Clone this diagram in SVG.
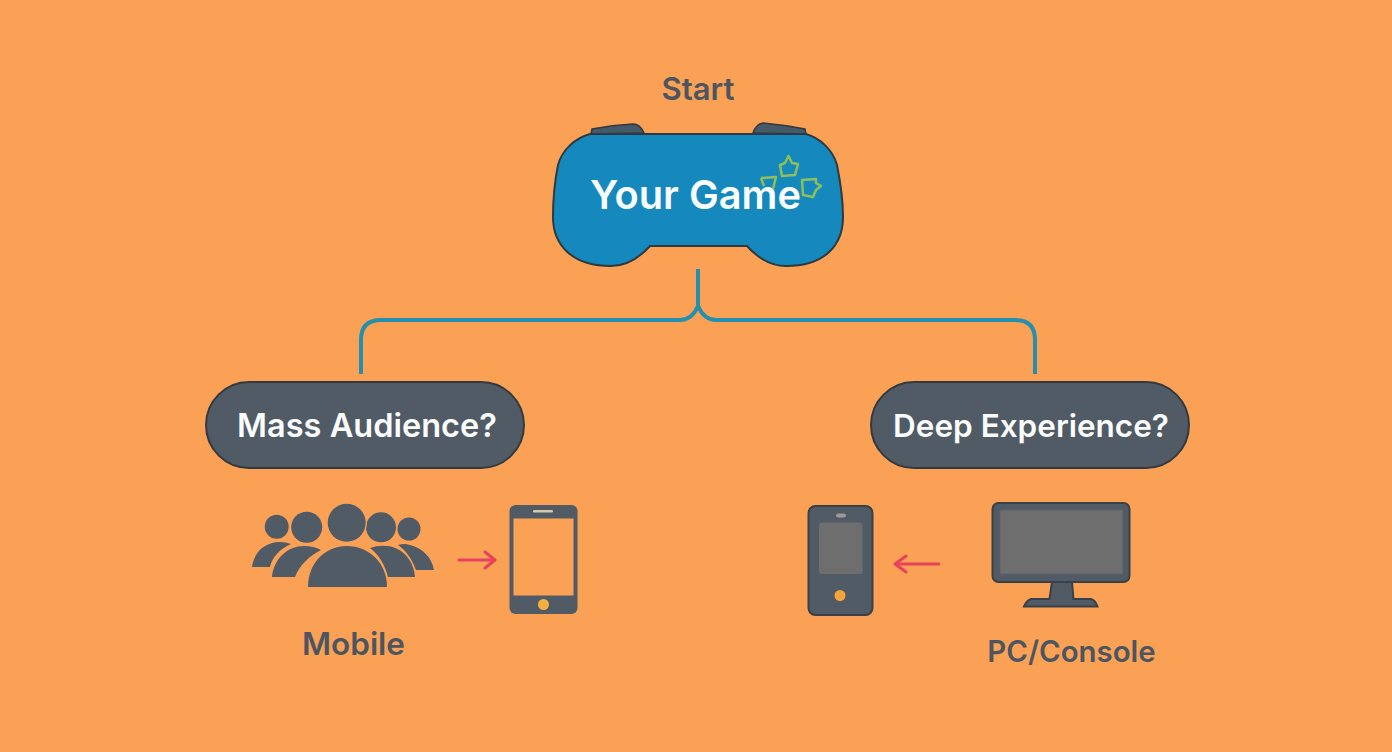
<svg xmlns="http://www.w3.org/2000/svg" width="1392" height="752" viewBox="0 0 1392 752">
<defs>
<style>
text{font-family:"Inter","Noto Sans","Liberation Sans",sans-serif;text-anchor:middle;font-weight:600}
.lbl{fill:#4d5660}
.wht{fill:#fafcfc}
.dk{fill:#505b66;stroke:#3a4046;stroke-width:2}
.ppl{fill:#505b66;stroke:#fba155;stroke-width:2.500;paint-order:stroke}
.con{fill:none;stroke:#2590ae;stroke-width:4}
.star{fill:none;stroke:#8fbf5a;stroke-width:2.500;stroke-linejoin:round}
.arr{fill:none;stroke:#e8415c;stroke-width:3;stroke-linecap:round;stroke-linejoin:round}
.pill{fill:#505b66;stroke:#33393f;stroke-width:2}
</style>
</defs>
<rect width="1392" height="752" fill="#fba155"/>
<g id="connectors">
<path class="con" d="M361 374V340Q361 320 381 320H680Q692 320 698 306V269M698 306Q704 320 716 320H1015Q1035 320 1035 340V374"/>
</g>
<g id="start-label"><text class="lbl" x="698" y="100" font-size="31">Start</text></g>
<g id="your-game">
<path d="M591 134L592 129Q612 125 633 124Q640 124 644 133ZM753 133Q756 124 763 123Q785 125 805 129L806 134Z" fill="#445a68" stroke="#33393f" stroke-width="1.500"/>
<path d="M590 134H806C820 138 833 150 837 165C840 180 843 198 843 217C843 245 825 266 786 266C771 266 757 257 747 246H650C640 257 626 266 611 266C572 266 553 245 553 217C553 198 555 180 558 165C562 150 575 138 590 134Z" fill="#1589bd" stroke="#2e3a40" stroke-width="2"/>
<text class="wht" x="695.500" y="209" font-size="39.800">Your Game</text>
<path class="star" d="M788.500 156L792 163L798 164L795 175L782 176L780 165L785 163Z"/>
<path class="star" d="M761 178L776 177L773 189M764 186L761 178"/>
<path class="star" d="M802 180L816 179L816 183L821 186L816 190L813 197L803 195Z"/>
</g>
<g id="mass-audience">
<rect class="pill" x="206" y="382" width="318" height="86" rx="43"/>
<text class="wht" x="367" y="436.500" font-size="32.500">Mass Audience?</text>
</g>
<g id="deep-experience">
<rect class="pill" x="871" y="382" width="318" height="86" rx="43"/>
<text class="wht" x="1031" y="436.500" font-size="31.500">Deep Experience?</text>
</g>
<g id="audience-icon">
<circle class="ppl" cx="276.700" cy="526.700" r="12"/>
<circle class="ppl" cx="409" cy="529" r="11.500"/>
<path class="ppl" d="M252 567C254 552 265 542 280 542Q286 542 291 544C280 549 272 557 270 567Z"/>
<path class="ppl" d="M398 545Q404 543 410 545C423 548 432 558 434 570H416C412 560 407 551 398 545Z"/>
<circle class="ppl" cx="306.700" cy="527.300" r="15.500"/>
<circle class="ppl" cx="381" cy="527.300" r="15"/>
<path class="ppl" d="M272 577C274 558 288 546 304 546Q314 546 321 550C309 556 299 566 295 577Z"/>
<path class="ppl" d="M370 548Q378 545 388 546C403 548 414 561 415 577H388C385 565 379 555 370 548Z"/>
<circle class="ppl" cx="346.700" cy="522.700" r="19"/>
<path class="ppl" d="M308 587C308 563 325 546 347 546C369 546 387 563 387 587Z"/>
</g>
<g id="mobile-arrow"><path class="arr" d="M459 560H494M485 552L495 560L485 568"/></g>
<g id="phone-light">
<rect x="509.500" y="505" width="68" height="109" rx="6" fill="#505b66"/>
<rect x="513.500" y="518.500" width="60" height="77" fill="#fba155"/>
<rect x="533" y="510" width="20" height="2.500" rx="1.200" fill="#d8c8a8"/>
<circle cx="543.500" cy="604.500" r="5.500" fill="#f5b040"/>
</g>
<g id="mobile-label"><text class="lbl" x="353.500" y="655" font-size="31.500">Mobile</text></g>
<g id="phone-dark">
<rect class="dk" x="808.500" y="506" width="64" height="109" rx="7"/>
<rect x="819" y="522.500" width="43.500" height="51.500" rx="3" fill="#6e6e6e"/>
<rect x="836" y="513.500" width="10" height="4" rx="2" fill="#9a9a9a"/>
<circle cx="840" cy="595.500" r="5.500" fill="#f7a53a"/>
</g>
<g id="console-arrow"><path class="arr" d="M939 564H896M906 556L895 564L906 572"/></g>
<g id="monitor">
<path class="dk" d="M1052 582H1072L1073.500 599H1091Q1095 600 1097.500 606.500H1024Q1027 600 1031 599H1049.500Z"/>
<rect class="dk" x="992.500" y="503" width="137" height="79" rx="6"/>
<rect x="1000" y="510" width="123" height="64" fill="#6e6e6e" stroke="#5a6068"/>
</g>
<g id="pc-label"><text class="lbl" x="1071.500" y="662" font-size="29.400">PC/Console</text></g>
</svg>
